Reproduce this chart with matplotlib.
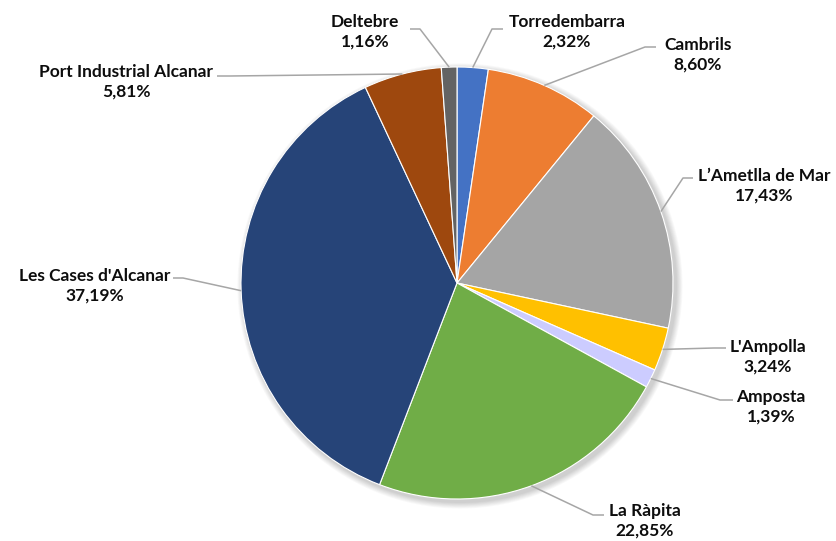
import matplotlib.pyplot as plt
import numpy as np
from matplotlib.patches import Circle

labels = ['Torredembarra', 'Cambrils', 'L\u2019Ametlla de Mar', "L'Ampolla", 'Amposta',
          'La R\u00e0pita', "Les Cases d'Alcanar", 'Port Industrial Alcanar', 'Deltebre']
values = [2.32, 8.60, 17.43, 3.24, 1.39, 22.85, 37.19, 5.81, 1.16]
colors = ['#4472C4', '#ED7D31', '#A5A5A5', '#FFC000', '#CCCCFF',
          '#70AD47', '#264478', '#9E480E', '#636363']

W, H = 837, 541
# label layout in pixel coords (from top-left): text centre, elbow, end of horizontal
label_pos = [(567, 32), (698, 55), (764, 186), (768, 357), (771, 407),
             (645, 521), (95, 286), (126, 82), (365, 32)]
elbows = [((492, 29), (503, 29)), ((645, 47), (656, 47)), ((683, 178), (693, 178)),
          ((714, 348), (726, 348)), ((720, 400), (733, 400)), ((593, 515), (604, 515)),
          ((183, 278), (173, 278)), ((230, 76), (217, 76)), ((420, 29), (410, 29))]

plt.rcParams['font.family'] = ['Lato', 'DejaVu Sans']

fig = plt.figure(figsize=(W / 100, H / 100), dpi=100)
ax = fig.add_axes([0, 0, 1, 1])

cx, cy, r = 457, H - 283, 216

# soft shadow
for k in range(8):
    ax.add_patch(Circle((cx + 3, cy - 3), r + 1 + k * 0.8, color='black',
                        alpha=0.025, lw=0, zorder=0))

wedges, _ = ax.pie(values, colors=colors, startangle=90, counterclock=False,
                   center=(cx, cy), radius=r,
                   wedgeprops=dict(edgecolor='white', linewidth=0.8))

for w in wedges:
    w.set_zorder(2)

for w, lab, val, (tx, ty), (e1, e2) in zip(wedges, labels, values, label_pos, elbows):
    mid = np.deg2rad((w.theta1 + w.theta2) / 2)
    px, py = cx + r * np.cos(mid), cy + r * np.sin(mid)
    ax.plot([px, e1[0], e2[0]], [py, H - e1[1], H - e2[1]], color='#A6A6A6',
            lw=1.1, zorder=3, solid_capstyle='butt')
    txt = f'{lab}\n{val:.2f}%'.replace('.', ',')
    ax.text(tx, H - ty, txt, ha='center', va='center', fontsize=12.5,
            fontweight='bold', color='#0d0d0d', linespacing=1.3, zorder=4)

ax.set_xlim(0, W)
ax.set_ylim(0, H)
ax.set_aspect('equal')
ax.axis('off')

fig.savefig('out.png', dpi=100)
